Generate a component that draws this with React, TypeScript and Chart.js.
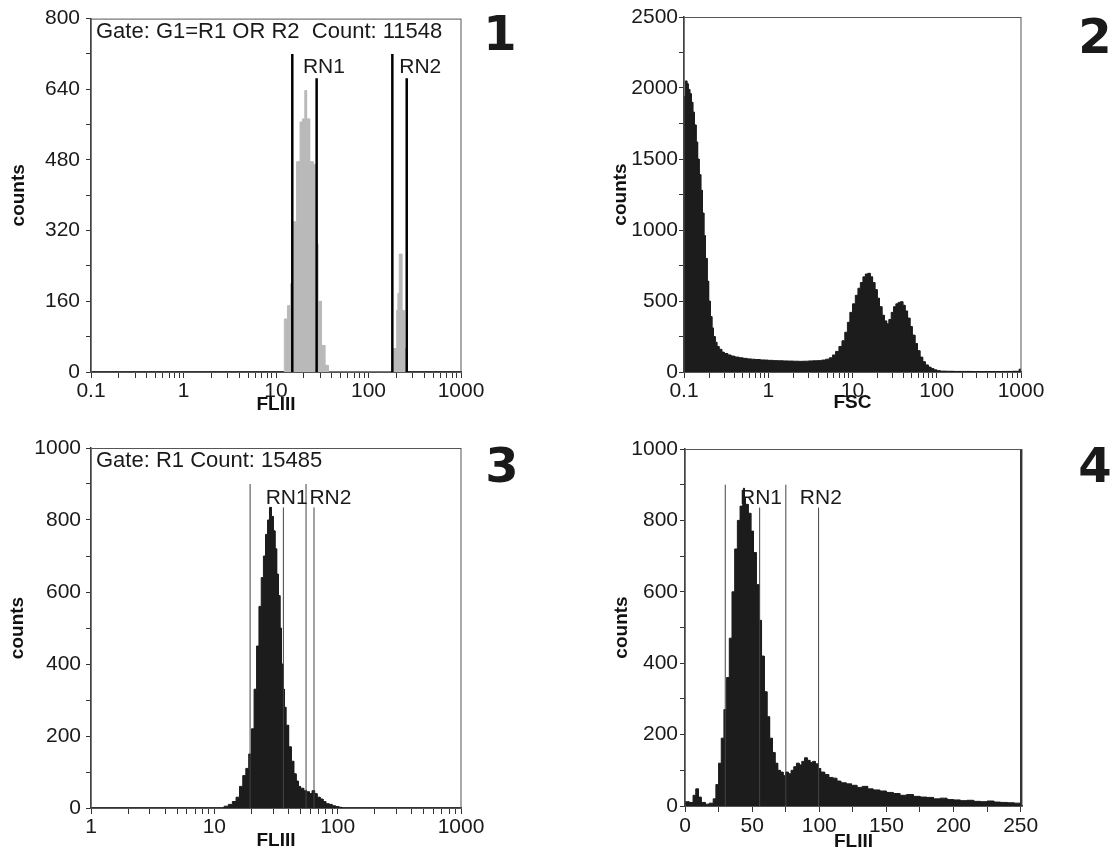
import React, { useEffect, useRef } from "react";
import { Chart, registerables } from "chart.js";

Chart.register(...registerables);

const FONT = '"Liberation Sans", Arial, Helvetica, sans-serif';

// ---------- Panel 1 : FLIII (log), gated G1=R1 OR R2 ----------
const p1Edges = [12.3, 13.3, 14.4, 15.4, 16.7, 18.2, 19.4, 20.5, 21.4, 23.1, 25.2, 26.9, 28.3, 30.9, 33.7, 36.7, 183, 202, 208, 215, 229, 243, 259];
const p1Counts = [120, 150, 200, 340, 476, 566, 573, 637, 573, 476, 470, 290, 160, 60, 15, 0, 53, 140, 178, 267, 139, 53, 0];
const p1Markers = [15, 27.5, 181, 259];
const p1MarkerTops = [720, 665, 720, 665];
const p1RegionNames = ["RN1", "RN2"];
const p1RegionLabelX = [33, 363];
const p1RegionLabelY = [690, 690];
const p1XMajors = [0.1, 1, 10, 100, 1000];
const p1YTicks = [0, 80, 160, 240, 320, 400, 480, 560, 640, 720, 800];
const p1YLabelStep = 160;

// ---------- Panel 2 : FSC (log) ----------
const p2Edges = [
  0.1, 0.104, 0.108, 0.112, 0.117, 0.122, 0.127, 0.133, 0.139, 0.145,
  0.151, 0.158, 0.165, 0.172, 0.18, 0.188, 0.196, 0.205, 0.214, 0.224,
  0.234, 0.245, 0.26, 0.28, 0.3, 0.33, 0.36, 0.4, 0.45, 0.5,
  0.56, 0.63, 0.7, 0.8, 0.9, 1.0, 1.15, 1.3, 1.5, 1.7,
  2.0, 2.3, 2.6, 3.0, 3.4, 3.8, 4.3, 4.8, 5.3, 5.8,
  6.3, 6.9, 7.5, 8.1, 8.7, 9.3, 10, 10.8, 11.6, 12.4,
  13.3, 14.2, 15.2, 16.2, 17.3, 18.4, 19.6, 20.9, 22.3, 23.8,
  25.4, 27, 28.8, 30.7, 32.7, 34.8, 37, 39.5, 42, 45,
  48, 51, 55, 59, 63, 68, 73, 79, 85, 92,
  100, 110, 130, 160, 200, 260, 340, 450, 600, 800,
  950, 1000,
];
const p2Counts = [
  1940, 2050, 2030, 1990, 1960, 1900, 1830, 1740, 1620, 1500,
  1390, 1280, 1120, 960, 800, 640, 500, 390, 310, 250,
  210, 180, 160, 140, 130, 120, 112, 105, 100, 96,
  92, 90, 88, 85, 84, 82, 80, 79, 78, 77,
  76, 75, 76, 78, 79, 80, 84, 90, 100, 120,
  145, 180, 220, 280, 350, 420, 480, 540, 590, 630,
  670, 690, 695, 670, 630, 580, 520, 460, 400, 360,
  340, 370, 420, 460, 480, 490, 495, 470, 430, 380,
  320, 260, 200, 150, 105, 72, 50, 35, 24, 15,
  9, 6, 5, 4, 4, 3, 3, 3, 4, 5,
  20, 0,
];
const p2XMajors = [0.1, 1, 10, 100, 1000];
const p2YTicks = [0, 250, 500, 750, 1000, 1250, 1500, 1750, 2000, 2250, 2500];
const p2YLabelStep = 500;

// ---------- Panel 3 : FLIII (log), gate R1 ----------
const p3Edges = [12, 13, 14, 15, 16, 17, 18, 19, 20, 21, 22, 23, 24, 25, 26, 27, 28, 29, 30, 31, 32, 33, 34, 35, 36, 37, 38, 40, 42, 44, 46, 48, 50, 53, 56, 59, 62, 65, 68, 72, 76, 80, 85, 90, 96, 102, 108];
const p3Counts = [5, 10, 18, 30, 60, 90, 110, 150, 220, 330, 450, 560, 640, 700, 760, 800, 835, 810, 770, 720, 650, 590, 500, 400, 330, 280, 230, 170, 130, 95, 75, 60, 55, 48, 45, 40, 48, 40, 30, 25, 18, 12, 10, 6, 4, 2, 0];
const p3Markers = [19.5, 36.3, 55.4, 64.3];
const p3MarkerTops = [900, 835, 900, 835];
const p3RegionNames = ["RN1", "RN2"];
const p3RegionLabelX = [38.6, 87.3];
const p3RegionLabelY = [860, 860];
const p3XMajors = [1, 10, 100, 1000];
const p3YTicks = [0, 100, 200, 300, 400, 500, 600, 700, 800, 900, 1000];
const p3YLabelStep = 200;

// ---------- Panel 4 : FLIII (linear channels) ----------
const p4Edges = [
  0, 3, 6, 8, 10, 12, 15, 18, 21, 23,
  25, 27, 29, 31, 33, 35, 37, 39, 41, 43,
  43.5, 44.2, 45, 47, 49, 51, 53, 55, 57, 59, 61, 63,
  65, 67, 69, 71, 73, 75, 77, 79, 81, 83,
  85, 87, 89, 91, 93, 95, 97, 99, 101, 104,
  107, 110, 113, 116, 120, 124, 128, 132, 136, 140,
  145, 150, 155, 160, 165, 170, 175, 180, 185, 190,
  195, 200, 205, 210, 215, 220, 225, 230, 235, 240,
  245, 250, 251,
];
const p4Counts = [
  12, 10, 30, 48, 25, 10, 5, 8, 20, 60,
  120, 190, 270, 360, 470, 600, 720, 800, 840, 860,
  890, 865, 845, 820, 770, 710, 620, 520, 420, 320, 250, 190,
  150, 120, 100, 95, 85, 95, 90, 100, 110, 120,
  115, 125, 135, 128, 122, 125, 118, 105, 95, 88,
  80, 78, 70, 65, 62, 58, 52, 55, 48, 45,
  42, 38, 35, 30, 32, 27, 25, 24, 20, 22,
  18, 17, 15, 16, 13, 12, 14, 11, 10, 9,
  8, 1000, 0,
];
const p4Markers = [30, 55.6, 75.1, 99.5];
const p4MarkerTops = [900, 836, 900, 836];
const p4RegionNames = ["RN1", "RN2"];
const p4RegionLabelX = [56.6, 101.2];
const p4RegionLabelY = [862, 862];
const p4XTicks = [0, 25, 50, 75, 100, 125, 150, 175, 200, 225, 250];
const p4XLabelStep = 50;
const p4YTicks = [0, 100, 200, 300, 400, 500, 600, 700, 800, 900, 1000];
const p4YLabelStep = 200;

const gate1Text = "Gate: G1=R1 OR R2  Count: 11548";
const gate3Text = "Gate: R1 Count: 15485";

function logTicks(majors: number[]): number[] {
  const out: number[] = [];
  for (let i = 0; i < majors.length - 1; i++) {
    for (let k = 1; k <= 9; k++) out.push(majors[i] * k);
  }
  out.push(majors[majors.length - 1]);
  return out;
}

// Build a step-outline table (bin left edge / right edge at the bin's count)
function stepTable(edges: number[], counts: number[]) {
  const pts: { x: number; y: number }[] = [{ x: edges[0], y: 0 }];
  for (let i = 0; i < edges.length - 1; i++) {
    pts.push({ x: edges[i], y: counts[i] });
    pts.push({ x: edges[i + 1], y: counts[i] });
  }
  pts.push({ x: edges[edges.length - 1], y: 0 });
  return pts;
}

const annotPlugin = {
  id: "panelAnnot",
  afterDatasetsDraw(chart: any, _args: any, opts: any) {
    const { ctx, chartArea, scales } = chart;
    ctx.save();
    ctx.strokeStyle = "#555";
    ctx.lineWidth = 1;
    ctx.strokeRect(chartArea.left, chartArea.top + 0.5, chartArea.right - chartArea.left, chartArea.bottom - chartArea.top);
    ctx.fillStyle = "#1a1a1a";
    ctx.textBaseline = "middle";
    if (opts.gate) {
      ctx.font = `22px ${FONT}`;
      ctx.textAlign = "left";
      ctx.fillText(opts.gate, chartArea.left + 5, chartArea.top + 13);
    }
    ctx.font = `21px ${FONT}`;
    ctx.textAlign = "center";
    (opts.labels || []).forEach((l: any) => {
      ctx.fillText(l.text, scales.x.getPixelForValue(l.x), scales.y.getPixelForValue(l.y));
    });
    ctx.restore();
  },
};

type PanelProps = {
  left: number; top: number; width: number; height: number;
  area: { left: number; top: number; right: number; bottom: number };
  xType: "logarithmic" | "linear";
  xMin: number; xMax: number;
  xTickValues: number[];
  xLabel: (v: number) => string;
  yTickValues: number[];
  yLabelStep: number;
  xTitle: string;
  xTitlePad: number; yTitlePad: number; yTickPad: number; xTickPad: number;
  edges: number[]; counts: number[];
  fillColor: string;
  markers: number[]; markerTops: number[]; markerColor: string; markerWidth: number;
  regionNames: string[]; regionLabelX: number[]; regionLabelY: number[];
  gate?: string;
};

function Panel(p: PanelProps) {
  const ref = useRef<HTMLCanvasElement | null>(null);
  useEffect(() => {
    if (!ref.current) return;
    const hist = stepTable(p.edges, p.counts);
    const markerSets = p.markers.map((mx, i) => ({
      data: [{ x: mx, y: 0 }, { x: mx, y: p.markerTops[i] }],
      borderColor: p.markerColor,
      borderWidth: p.markerWidth,
      pointRadius: 0,
      fill: false,
      order: 1,
    }));
    const chart = new Chart(ref.current, {
      type: "line",
      data: {
        datasets: [
          ...markerSets,
          {
            data: hist,
            borderColor: p.fillColor,
            backgroundColor: p.fillColor,
            borderWidth: 1,
            pointRadius: 0,
            tension: 0,
            fill: "origin",
            order: 2,
          },
        ] as any,
      },
      options: {
        animation: false,
        responsive: false,
        events: [],
        layout: {
          padding: { left: 0, top: p.area.top, right: p.width - p.area.right, bottom: 0 },
        },
        plugins: {
          legend: { display: false },
          tooltip: { enabled: false },
          panelAnnot: {
            gate: p.gate,
            labels: p.regionNames.map((t, i) => ({ text: t, x: p.regionLabelX[i], y: p.regionLabelY[i] })),
          },
        } as any,
        scales: {
          x: {
            type: p.xType,
            min: p.xMin,
            max: p.xMax,
            afterBuildTicks: (s: any) => {
              s.ticks = p.xTickValues.map((v) => ({ value: v }));
            },
            afterFit: (s: any) => {
              s.height = p.height - p.area.bottom;
            },
            ticks: {
              autoSkip: false,
              maxRotation: 0,
              padding: p.xTickPad,
              color: "#1a1a1a",
              font: { family: FONT, size: 21 },
              callback: (v: any) => p.xLabel(Number(v)),
            },
            grid: { drawOnChartArea: false, drawTicks: true, tickLength: 6, color: "#333" },
            border: { display: true, color: "#333", width: 1.5 },
            title: {
              display: true,
              text: p.xTitle,
              color: "#111",
              font: { family: FONT, size: 19, weight: "bold" },
              padding: { top: 0, bottom: p.xTitlePad },
            },
          },
          y: {
            type: "linear",
            min: 0,
            max: p.yTickValues[p.yTickValues.length - 1],
            afterBuildTicks: (s: any) => {
              s.ticks = p.yTickValues.map((v) => ({ value: v }));
            },
            afterFit: (s: any) => {
              s.width = p.area.left;
            },
            ticks: {
              autoSkip: false,
              padding: p.yTickPad,
              color: "#1a1a1a",
              font: { family: FONT, size: 21 },
              callback: (v: any) => (Number(v) % p.yLabelStep === 0 ? String(v) : ""),
            },
            grid: { drawOnChartArea: false, drawTicks: true, tickLength: 5, color: "#333" },
            border: { display: true, color: "#333", width: 1.5 },
            title: {
              display: true,
              text: "counts",
              color: "#111",
              font: { family: FONT, size: 19, weight: "bold" },
              padding: { top: p.yTitlePad, bottom: 0 },
            },
          },
        },
      } as any,
      plugins: [annotPlugin],
    });
    return () => chart.destroy();
  }, []);
  return (
    <canvas
      ref={ref}
      width={p.width}
      height={p.height}
      style={{ position: "absolute", left: p.left, top: p.top, width: p.width, height: p.height }}
    />
  );
}

const logLabel = (majors: number[]) => (v: number) => (majors.some((m) => Math.abs(m - v) < 1e-9) ? String(v) : "");

const numStyle = (left: number, top: number): React.CSSProperties => ({
  position: "absolute",
  left,
  top,
  width: 60,
  textAlign: "center",
  fontFamily: '"DejaVu Sans", sans-serif',
  fontWeight: 900,
  fontSize: 48,
  lineHeight: 1,
  color: "#1a1a1a",
});

export default function App() {
  return (
    <div style={{ position: "absolute", left: 0, top: 0, width: 1117, height: 856, background: "#fff", overflow: "hidden" }}>
      <Panel
        left={0} top={0} width={540} height={420}
        area={{ left: 91, top: 16, right: 461, bottom: 372 }}
        xType="logarithmic" xMin={0.1} xMax={1000}
        xTickValues={logTicks(p1XMajors)} xLabel={logLabel(p1XMajors)}
        yTickValues={p1YTicks} yLabelStep={p1YLabelStep}
        xTitle="FLIII" xTitlePad={4} yTitlePad={7} yTickPad={6} xTickPad={1}
        edges={p1Edges} counts={p1Counts} fillColor="#b9b9b9"
        markers={p1Markers} markerTops={p1MarkerTops} markerColor="#000" markerWidth={2.5}
        regionNames={p1RegionNames} regionLabelX={p1RegionLabelX} regionLabelY={p1RegionLabelY}
        gate={gate1Text}
      />
      <Panel
        left={560} top={0} width={557} height={420}
        area={{ left: 124, top: 17, right: 461, bottom: 372 }}
        xType="logarithmic" xMin={0.1} xMax={1000}
        xTickValues={logTicks(p2XMajors)} xLabel={logLabel(p2XMajors)}
        yTickValues={p2YTicks} yLabelStep={p2YLabelStep}
        xTitle="FSC" xTitlePad={6} yTitlePad={49} yTickPad={1} xTickPad={1}
        edges={p2Edges} counts={p2Counts} fillColor="#1c1c1c"
        markers={[]} markerTops={[]} markerColor="#000" markerWidth={1}
        regionNames={[]} regionLabelX={[]} regionLabelY={[]}
      />
      <Panel
        left={0} top={420} width={540} height={436}
        area={{ left: 91, top: 28, right: 461, bottom: 388 }}
        xType="logarithmic" xMin={1} xMax={1000}
        xTickValues={logTicks(p3XMajors)} xLabel={logLabel(p3XMajors)}
        yTickValues={p3YTicks} yLabelStep={p3YLabelStep}
        xTitle="FLIII" xTitlePad={4} yTitlePad={6} yTickPad={5} xTickPad={1}
        edges={p3Edges} counts={p3Counts} fillColor="#1c1c1c"
        markers={p3Markers} markerTops={p3MarkerTops} markerColor="#444" markerWidth={1}
        regionNames={p3RegionNames} regionLabelX={p3RegionLabelX} regionLabelY={p3RegionLabelY}
        gate={gate3Text}
      />
      <Panel
        left={560} top={420} width={557} height={436}
        area={{ left: 125, top: 29, right: 462, bottom: 386 }}
        xType="linear" xMin={0} xMax={251}
        xTickValues={p4XTicks} xLabel={(v: number) => (v % p4XLabelStep === 0 ? String(v) : "")}
        yTickValues={p4YTicks} yLabelStep={p4YLabelStep}
        xTitle="FLIII" xTitlePad={3} yTitlePad={50} yTickPad={2} xTickPad={2}
        edges={p4Edges} counts={p4Counts} fillColor="#1c1c1c"
        markers={p4Markers} markerTops={p4MarkerTops} markerColor="#444" markerWidth={1}
        regionNames={p4RegionNames} regionLabelX={p4RegionLabelX} regionLabelY={p4RegionLabelY}
      />
      <div style={numStyle(470, 9)}>1</div>
      <div style={numStyle(1065, 12)}>2</div>
      <div style={numStyle(472, 441)}>3</div>
      <div style={numStyle(1065, 441)}>4</div>
    </div>
  );
}
